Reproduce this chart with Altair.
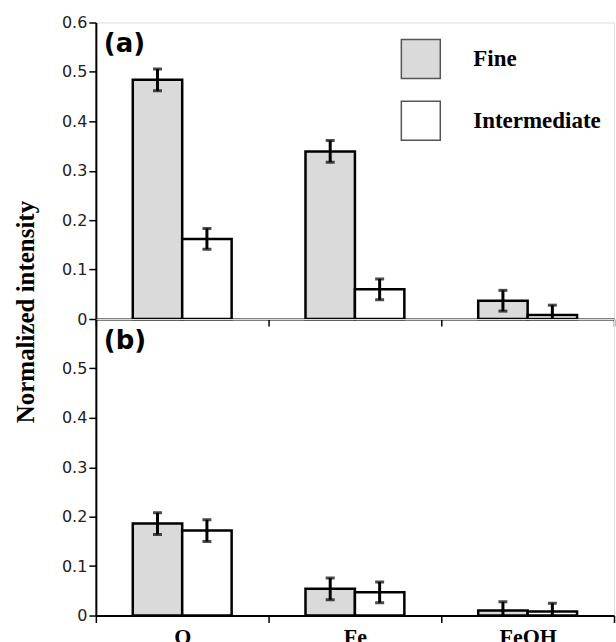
import altair as alt
import pandas as pd

categories = ["O", "Fe", "FeOH"]
series = ["Fine", "Intermediate"]

a_fine = [0.484, 0.339, 0.037]
a_inter = [0.162, 0.060, 0.008]
a_fine_err = [0.022, 0.022, 0.021]
a_inter_err = [0.021, 0.021, 0.020]

b_fine = [0.186, 0.054, 0.010]
b_inter = [0.172, 0.047, 0.008]
b_fine_err = [0.022, 0.022, 0.018]
b_inter_err = [0.022, 0.021, 0.017]

y_ticks_a = [0, 0.1, 0.2, 0.3, 0.4, 0.5, 0.6]
y_ticks_b = [0, 0.1, 0.2, 0.3, 0.4, 0.5]


def make_df(fine, inter, fe, ie):
    rows = []
    for i, c in enumerate(categories):
        rows.append(dict(category=c, series="Fine", value=fine[i],
                         lo=fine[i] - fe[i], hi=fine[i] + fe[i]))
        rows.append(dict(category=c, series="Intermediate", value=inter[i],
                         lo=inter[i] - ie[i], hi=inter[i] + ie[i]))
    return pd.DataFrame(rows)


W, H = 519, 297
SERIF = "Liberation Serif"
SANS = "DejaVu Sans"


def panel(df, label, show_labels, y_values, show_legend):
    x = alt.X("category:N", sort=categories,
              scale=alt.Scale(paddingInner=0, paddingOuter=0),
              axis=alt.Axis(title=None, labels=show_labels, tickBand="extent",
                            ticks=True, tickSize=7, tickColor="black", tickWidth=1.5,
                            domainColor="black", domainWidth=2,
                            labelFont=SERIF, labelFontWeight="bold", labelFontSize=22,
                            labelColor="black", labelAngle=0, labelPadding=4))
    xo = alt.XOffset("series:N", sort=series,
                     scale=alt.Scale(paddingOuter=0.747, paddingInner=0))
    y_axis = alt.Axis(title=None, values=y_values, format="~g", grid=False,
                      tickSize=7, tickColor="black", tickWidth=1.5,
                      domainColor="black", domainWidth=2,
                      labelFont=SANS, labelFontSize=16, labelColor="#222",
                      labelPadding=2)
    yscale = alt.Scale(domain=[0, 0.6], nice=False)
    if show_legend:
        leg = alt.Legend(title=None, orient="none", legendX=305, legendY=16,
                         symbolType="square", symbolSize=1521,
                         symbolStrokeColor="#555", symbolStrokeWidth=1.5,
                         labelFont=SERIF, labelFontWeight="bold", labelFontSize=23,
                         labelColor="black", labelOffset=32, rowPadding=17,
                         padding=0)
    else:
        leg = None
    color = alt.Color("series:N", sort=series,
                      scale=alt.Scale(domain=series, range=["#dadada", "white"]),
                      legend=leg)

    base = alt.Chart(df)
    bars = base.mark_bar(stroke="black", strokeWidth=2.5).encode(
        x=x, xOffset=xo, y=alt.Y("value:Q", scale=yscale, axis=y_axis), color=color)
    rule = base.mark_rule(color="black", strokeWidth=3, clip=True).encode(
        x=x, xOffset=xo, y="lo:Q", y2="hi:Q")
    tlo = base.mark_tick(color="black", thickness=3, size=9, clip=True).encode(
        x=x, xOffset=xo, y="lo:Q")
    thi = base.mark_tick(color="black", thickness=3, size=9, clip=True).encode(
        x=x, xOffset=xo, y="hi:Q")
    txt = alt.Chart(pd.DataFrame({"t": [label]})).mark_text(
        font="DejaVu Sans", fontWeight="bold", fontSize=26,
        align="left", baseline="top", color="black").encode(
        text="t:N", x=alt.value(8), y=alt.value(9))
    return alt.layer(bars, rule, tlo, thi, txt).properties(width=W, height=H)


pa = panel(make_df(a_fine, a_inter, a_fine_err, a_inter_err), "(a)", False, y_ticks_a, True)
pb = panel(make_df(b_fine, b_inter, b_fine_err, b_inter_err), "(b)", True, y_ticks_b, False)

chart = alt.vconcat(pa, pb, spacing=0, bounds="flush").resolve_legend(color="independent").properties(
    title=alt.TitleParams("Normalized intensity", orient="left", anchor="middle",
                          font=SERIF, fontWeight="bold", fontSize=25, color="black",
                          offset=22, dx=19),
    padding={"left": 14, "top": 13, "right": 0, "bottom": 0},
).configure_view(stroke="black", strokeWidth=2).configure(background="white")

chart.save("out.html", embed_options={"renderer": "svg", "actions": False})
